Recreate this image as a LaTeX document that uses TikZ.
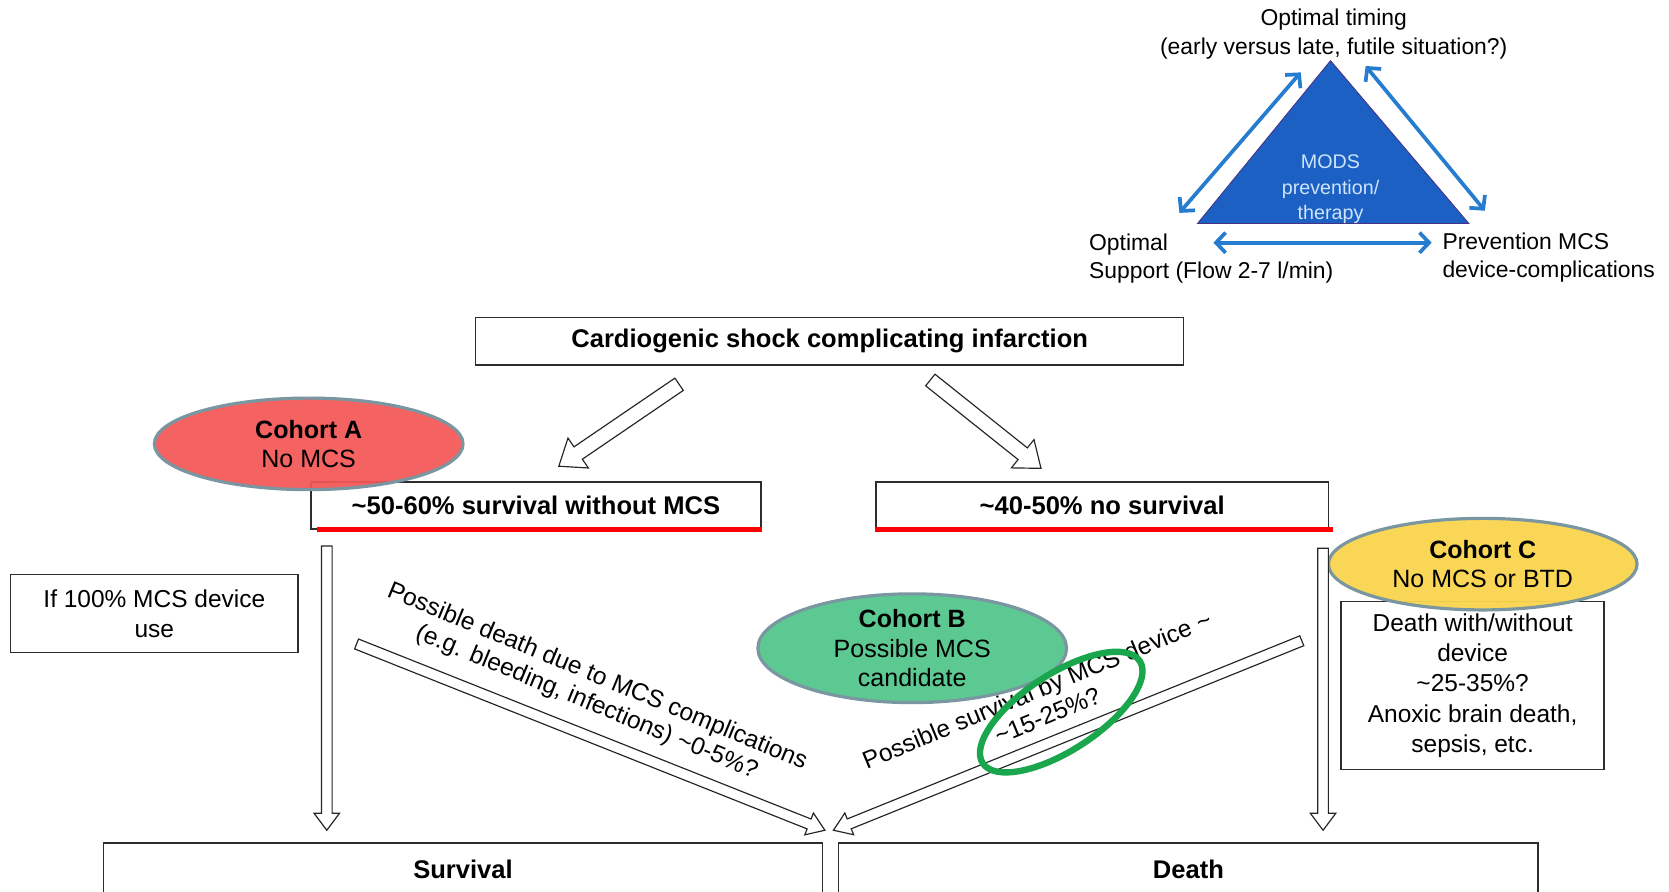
\documentclass[tikz,border=0pt]{standalone}
\usepackage{fontspec}
\setmainfont{Liberation Sans}
\usetikzlibrary{arrows.meta,calc,shapes.geometric}
\definecolor{triblue}{RGB}{28,96,196}
\definecolor{arrblue}{RGB}{38,124,206}
\definecolor{modstxt}{RGB}{205,228,252}
\definecolor{redfill}{RGB}{243,86,86}
\definecolor{greenfill}{RGB}{84,198,140}
\definecolor{yellowfill}{RGB}{249,212,76}
\definecolor{ellb}{RGB}{122,150,160}
\definecolor{ring}{RGB}{26,166,76}
\definecolor{boxline}{RGB}{45,45,45}
\newcommand\hollowarrow[6]{%
  \coordinate (#1-h) at ($(#3)!#6!(#2)$);
  \draw[hollow] ($(#2)!#4!90:(#3)$) -- ($(#1-h)!#4!90:(#3)$) -- ($(#1-h)!#5!90:(#3)$) -- (#3)
     -- ($(#1-h)!#5!-90:(#3)$) -- ($(#1-h)!#4!-90:(#3)$) -- ($(#2)!#4!-90:(#3)$) -- cycle;}
\tikzset{
  box/.style={draw=boxline, line width=1.3pt, fill=white, inner sep=0pt, align=center},
  bbox/.style={box, font=\fontsize{24}{28}\selectfont\bfseries},
  nbox/.style={box, font=\fontsize{23}{28.5}\selectfont},
  cohort/.style={ellipse, draw=ellb, line width=3pt, minimum width=290pt, minimum height=86pt,
     inner sep=0pt, align=center, font=\fontsize{23.5}{27.5}\selectfont},
  tlabel/.style={font=\fontsize{21.5}{27}\selectfont, inner sep=0pt},
  rlabel/.style={font=\fontsize{23}{26}\selectfont, align=center, inner sep=0pt},
  bluearr/.style={draw=arrblue, line width=3.5pt,
     {Straight Barb[length=9pt,width=19pt]}-{Straight Barb[length=9pt,width=19pt]}},
  hollow/.style={draw=black!85, line width=1.1pt, fill=white, line join=miter},
  redline/.style={draw=red, line width=5pt},
}
\begin{document}
\begin{tikzpicture}[x=1pt,y=-1pt]
\useasboundingbox (0,0) rectangle (1568,838);

% ---------- triangle diagram ----------
\coordinate (apex) at (1250,57);
\coordinate (bl) at (1125,210);
\coordinate (br) at (1380,210);
\fill[triblue, draw={rgb,255:red,70;green,50;blue,130}, line width=0.8pt] (apex) -- (br) -- (bl) -- cycle;
\node[font=\fontsize{18.5}{24}\selectfont, text=modstxt, align=center, inner sep=0pt] (mods) at (1250,178)
  {MODS\\prevention/\\therapy};
\node[tlabel, align=center] (timing) at (1253,32) {Optimal timing\\(early versus late, futile situation?)};
\node[tlabel, align=left, anchor=west] (support) at (1023,243) {Optimal\\Support (Flow 2-7 l/min)};
\node[tlabel, align=left, anchor=west] (prev) at (1355,242) {Prevention MCS\\device-complications};
\coordinate (la1) at (1108,200); \coordinate (la2) at (1222,68);
\coordinate (ra1) at (1283,62);  \coordinate (ra2) at (1395,198);
\coordinate (ba1) at (1140,228); \coordinate (ba2) at (1345,228);
\draw[bluearr] (la1) -- (la2);
\draw[bluearr] (ra1) -- (ra2);
\draw[bluearr] (ba1) -- (ba2);

% ---------- flowchart boxes ----------
\node[bbox, minimum width=665pt, minimum height=45pt] (shock) at (779.5,320.5) {Cardiogenic shock complicating infarction};
\node[bbox, minimum width=423pt, minimum height=44pt] (s60) at (503.5,475) {\textasciitilde 50-60\% survival without MCS};
\node[bbox, minimum width=425pt, minimum height=44pt] (ns) at (1035.5,475) {\textasciitilde 40-50\% no survival};
\draw[redline] ($(s60.south west)+(6,0)$) -- (s60.south east);
\draw[redline] (ns.south west) -- ($(ns.south east)+(4,0)$);
\node[nbox, minimum width=270pt, minimum height=73pt] (ifbox) at (145,576.5) {If 100\% MCS device\\use};
\node[nbox, minimum width=247pt, minimum height=158pt] (dbox) at (1383.5,644)
  {Death with/without\\device\\\textasciitilde 25-35\%?\\Anoxic brain death,\\sepsis, etc.};
\node[bbox, minimum width=676pt, minimum height=50pt] (surv) at (435,817) {Survival};
\node[bbox, minimum width=657pt, minimum height=50pt] (death) at (1116.5,817) {Death};

% ---------- cohort ellipses ----------
\node[cohort, fill=redfill, fill opacity=0.93, text opacity=1] (coA) at (290,417) {\textbf{Cohort A}\\No MCS};
\node[cohort, fill=yellowfill, fill opacity=0.95, text opacity=1] (coC) at (1393,530) {\textbf{Cohort C}\\No MCS or BTD};

% ---------- hollow arrows ----------
\coordinate (t1) at (638,361); \coordinate (e1) at (525,438);
\coordinate (t2) at (874,357); \coordinate (e2) at (978,440);
\hollowarrow{h1}{t1}{e1}{7pt}{17pt}{22pt}
\hollowarrow{h2}{t2}{e2}{7pt}{17pt}{22pt}
\coordinate (v1s) at (307,513); \coordinate (v1e) at (307,780);
\coordinate (v2s) at (1243,515); \coordinate (v2e) at (1243,780);
\hollowarrow{h3}{v1s}{v1e}{5pt}{12pt}{16pt}
\hollowarrow{h4}{v2s}{v2e}{5pt}{12pt}{16pt}
\coordinate (d1s) at (335,605); \coordinate (d1e) at (775,780);
\coordinate (d2s) at (1223,602); \coordinate (d2e) at (783,780);
\hollowarrow{h5}{d1s}{d1e}{5pt}{11pt}{16pt}
\hollowarrow{h6}{d2s}{d2e}{5pt}{11pt}{16pt}

% ---------- rotated labels ----------
\node[rlabel, rotate=-22.5] (lab1) at (556,648) {Possible death due to MCS complications\\(e.g. bleeding, infections) \textasciitilde 0-5\%?};
\node[rlabel, rotate=22.5] (lab2) at (979,660) {Possible survival by MCS device \textasciitilde\\\textasciitilde 15-25\%?};

\node[cohort, fill=greenfill, fill opacity=0.95, text opacity=1] (coB) at (857,609) {\textbf{Cohort B}\\Possible MCS\\candidate};

% green highlight ring
\draw[ring, line width=6pt, rotate around={33:(997,669)}] (997,669) ellipse [x radius=88pt, y radius=36pt];
\end{tikzpicture}
\end{document}
